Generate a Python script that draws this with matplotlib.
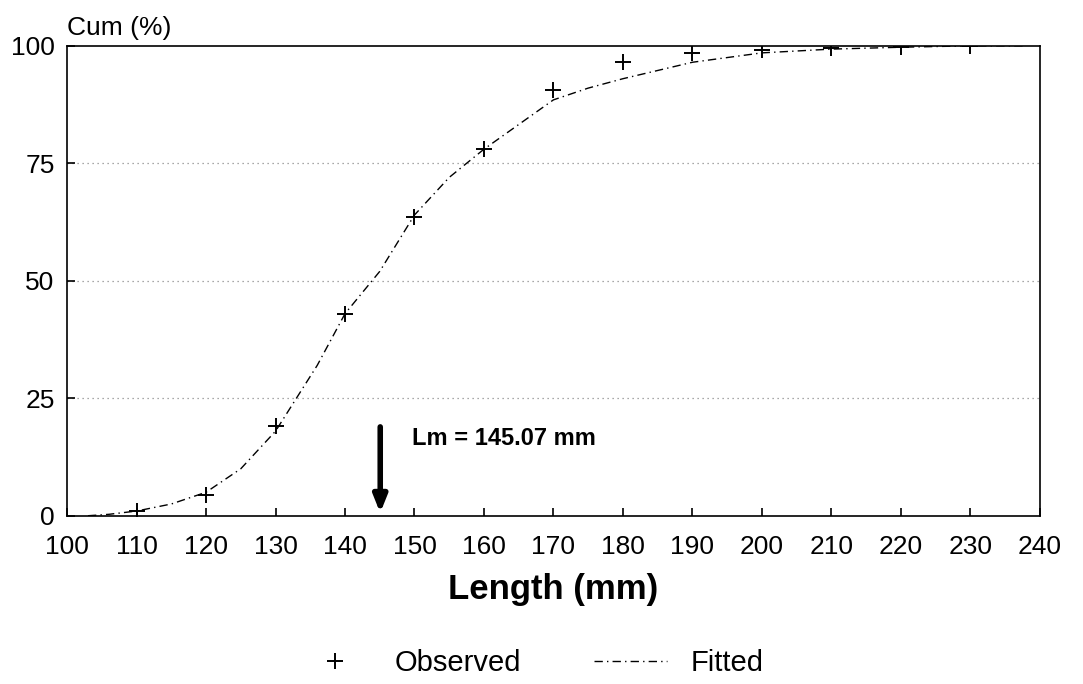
import matplotlib.pyplot as plt

plt.rcParams['font.family'] = ['Liberation Sans', 'DejaVu Sans']

# observed cumulative %
obs_len = [110, 120, 130, 140, 150, 160, 170, 180, 190, 200, 210, 220, 230]
obs_cum = [1.0, 4.5, 19, 43, 63.5, 78, 90.5, 96.5, 98.5, 99.2, 99.6, 99.8, 100]

# fitted curve
fit_len = [103, 106, 110, 115, 120, 125, 130, 133, 136, 140, 145, 150, 155, 160,
           170, 175, 180, 190, 200, 210, 220, 230, 238]
fit_cum = [0, 0.3, 1.0, 2.5, 5.0, 10, 18, 25, 32, 43, 52, 64, 72, 78,
           88.5, 91, 93, 96.5, 98.5, 99.3, 99.7, 100, 100]

lm = 145.07

fig = plt.figure(figsize=(10.83, 6.84), dpi=100)
ax = fig.add_axes([0.062, 0.246, 0.898, 0.687])

for g in [25, 50, 75]:
    ax.axhline(g, color="0.55", lw=0.9, ls=(0, (1, 3)), zorder=0)

ax.plot(fit_len, fit_cum, color="black", lw=1.0, ls=(0, (6, 3, 1, 3)), label="Fitted")
ax.plot(obs_len, obs_cum, ls="none", marker="+", ms=12, mew=1.4, color="black",
        label="Observed")

ax.annotate("", xy=(lm, 0), xytext=(lm, 19.5),
            arrowprops=dict(arrowstyle="-|>,head_width=0.4,head_length=1.0",
                            color="black", lw=4))
ax.text(lm + 4.6, 16.5, "Lm = 145.07 mm", fontsize=17, fontweight="semibold",
        va="center", ha="left")

ax.set_xlim(100, 240)
ax.set_ylim(0, 100)
ax.set_xticks(range(100, 241, 10))
ax.set_yticks([0, 25, 50, 75, 100])
ax.tick_params(direction="in", length=6, width=1.2, labelsize=19)
ax.tick_params(axis="x", pad=14)
ax.tick_params(axis="y", pad=9)
for sp in ax.spines.values():
    sp.set_linewidth(1.2)

ax.set_xlabel("Length (mm)", fontsize=25, fontweight="bold", labelpad=10)
ax.text(0, 1.012, "Cum (%)", transform=ax.transAxes, fontsize=19,
        ha="left", va="bottom")

h, l = ax.get_legend_handles_labels()
fig.legend(h[::-1], l[::-1], loc="center", bbox_to_anchor=(0.49, 0.03), ncol=2,
           frameon=False, fontsize=21, handlelength=2.5, columnspacing=2.5)

fig.savefig("out.png", dpi=100)
